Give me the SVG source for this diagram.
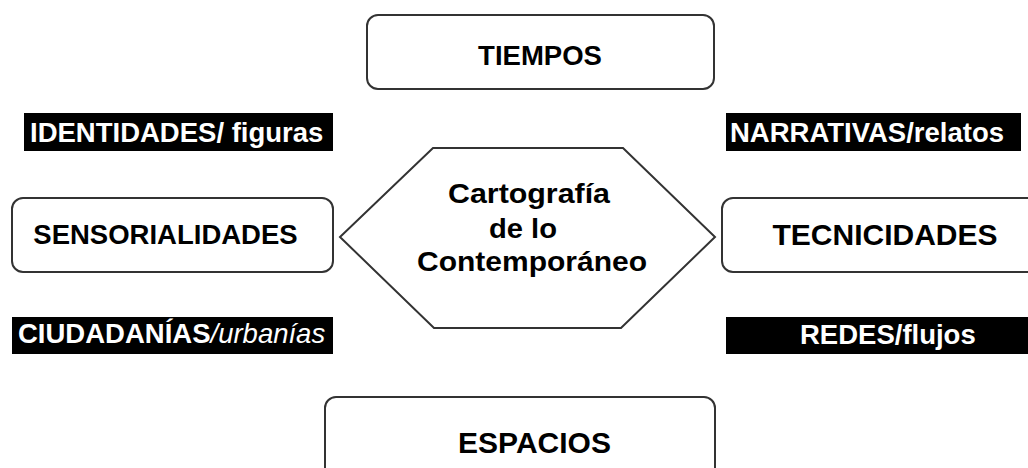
<svg xmlns="http://www.w3.org/2000/svg" width="1028" height="468" viewBox="0 0 1028 468">
<style>
.box{fill:#fff;stroke:#333;stroke-width:2}
.lbl{fill:#000}
.t{font-family:"Liberation Sans",Arial,sans-serif;font-weight:bold;fill:#000}
.w{font-family:"Liberation Sans",Arial,sans-serif;font-weight:bold;fill:#fff;font-size:27.5px}
</style>
<rect width="1028" height="468" fill="#fff"/>
<g id="center">
<polygon class="box" points="433,148 623,148 715,237 621,328 434,328 340,237"/>
<text class="t" font-size="28" x="448" y="203" textLength="162" lengthAdjust="spacingAndGlyphs">Cartografía</text>
<text class="t" font-size="28" x="489" y="238" textLength="68" lengthAdjust="spacingAndGlyphs">de lo</text>
<text class="t" font-size="28" x="417" y="271" textLength="230" lengthAdjust="spacingAndGlyphs">Contemporáneo</text>
</g>
<g id="tiempos">
<rect class="box" x="367" y="15" width="347" height="74" rx="11"/>
<text class="t" font-size="27.5" x="540" y="65" text-anchor="middle">TIEMPOS</text>
</g>
<g id="sensorialidades">
<rect class="box" x="12" y="198" width="321" height="74" rx="11"/>
<text class="t" font-size="27.5" x="165.5" y="244" text-anchor="middle">SENSORIALIDADES</text>
</g>
<g id="tecnicidades">
<rect class="box" x="722" y="198" width="330" height="74" rx="11"/>
<text class="t" font-size="30" x="885" y="245" text-anchor="middle">TECNICIDADES</text>
</g>
<g id="espacios">
<rect class="box" x="325" y="397" width="390" height="90" rx="11"/>
<text class="t" font-size="30" x="534.5" y="453" text-anchor="middle">ESPACIOS</text>
</g>
<g id="identidades">
<rect class="lbl" x="24" y="113" width="309" height="38"/>
<text class="w" x="30" y="142">IDENTIDADES/ figuras</text>
</g>
<g id="narrativas">
<rect class="lbl" x="726" y="113" width="295" height="38"/>
<text class="w" x="730" y="142">NARRATIVAS/relatos</text>
</g>
<g id="ciudadanias">
<rect class="lbl" x="12" y="317" width="321" height="37"/>
<text class="w" x="18" y="343">CIUDADANÍAS<tspan font-style="italic" font-weight="normal">/urbanías</tspan></text>
</g>
<g id="redes">
<rect class="lbl" x="726" y="317" width="310" height="37"/>
<text class="w" x="800" y="344">REDES/flujos</text>
</g>
<g id="connectors"></g>
</svg>
